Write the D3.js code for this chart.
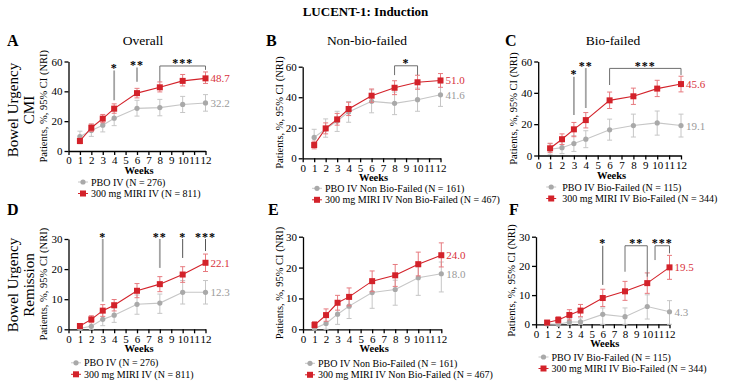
<!DOCTYPE html>
<html>
<head>
<meta charset="utf-8">
<script src="https://cdn.jsdelivr.net/npm/d3@7"></script>
<style>
  html, body { margin: 0; padding: 0; background: #fff; }
  svg { display: block; }
  svg text { font-family: "Liberation Serif", "DejaVu Serif", serif; }
</style>
</head>
<body>
<svg id="chart"></svg>
<script>
// weeks of measurement and x tick labels
const weeks = [1, 2, 3, 4, 6, 8, 10, 12];
const xTicks = [0, 1, 2, 3, 4, 5, 6, 7, 8, 9, 10, 11, 12];
const yTicksCmi = [0, 20, 40, 60];
const yTicksRem = [0, 10, 20, 30];

// A: CMI overall
const cmiAllPbo = [9.7, 13.8, 17.3, 22.0, 28.6, 29.1, 31.2, 32.2];
const cmiAllPboCI = [[5.6, 13.3], [9.8, 18.0], [12.8, 21.8], [17.0, 26.8], [23.4, 34.0], [23.6, 34.6], [25.8, 36.6], [26.7, 37.8]];
const cmiAllMiri = [6.7, 15.6, 21.7, 28.4, 38.8, 42.7, 47.0, 48.7];
const cmiAllMiriCI = [[4.9, 8.6], [13.1, 18.1], [19.0, 24.5], [25.3, 31.6], [35.6, 42.0], [39.6, 46.3], [43.6, 51.3], [45.3, 53.0]];

// B: CMI non-bio-failed
const cmiNonBioPbo = [13.7, 19.2, 24.4, 30.4, 37.3, 36.0, 38.4, 41.6];
const cmiNonBioPboCI = [[8.4, 19.0], [13.8, 25.8], [17.6, 30.8], [23.6, 37.2], [29.8, 44.8], [28.6, 43.4], [30.8, 46.0], [34.0, 49.2]];
const cmiNonBioMiri = [8.7, 19.6, 25.5, 32.3, 41.0, 46.2, 49.8, 51.0];
const cmiNonBioMiriCI = [[6.2, 11.2], [16.0, 23.2], [21.7, 29.4], [28.0, 36.7], [36.7, 45.4], [41.7, 50.8], [45.2, 54.4], [46.5, 55.5]];

// C: CMI bio-failed
const cmiBioPbo = [4.0, 5.0, 7.6, 10.4, 16.4, 19.1, 20.8, 19.1];
const cmiBioPboCI = [[0.8, 7.5], [1.2, 8.8], [2.6, 12.7], [5.0, 15.8], [9.8, 23.2], [11.8, 26.4], [13.0, 28.4], [11.8, 26.4]];
const cmiBioMiri = [4.6, 10.4, 16.7, 22.6, 35.2, 37.8, 42.7, 45.6];
const cmiBioMiriCI = [[2.0, 7.8], [7.0, 13.8], [12.0, 21.1], [17.6, 27.4], [30.0, 40.5], [32.6, 43.0], [37.6, 48.0], [40.6, 50.6]];

// D: remission overall
const remAllPbo = [0.3, 1.0, 3.3, 4.7, 8.3, 8.7, 12.3, 12.3];
const remAllPboCI = [[0, 1.1], [0, 2.3], [1.2, 5.6], [2.3, 7.1], [5.0, 11.4], [5.3, 11.7], [8.4, 16.2], [8.4, 16.2]];
const remAllMiri = [1.1, 3.3, 6.2, 8.0, 12.8, 15.0, 18.2, 22.1];
const remAllMiriCI = [[0.4, 1.8], [2.2, 4.5], [4.3, 8.2], [6.1, 9.9], [10.5, 15.2], [12.5, 17.5], [15.6, 20.8], [19.2, 25.0]];

// E: remission non-bio-failed
const remNonBioPbo = [0.3, 1.9, 4.9, 7.5, 11.9, 12.9, 16.7, 18.0];
const remNonBioPboCI = [[0, 1.2], [0, 3.9], [1.6, 8.2], [3.5, 10.5], [6.8, 15.4], [7.8, 15.9], [11.0, 20.2], [12.1, 21.8]];
const remNonBioMiri = [1.4, 4.6, 8.6, 10.5, 15.6, 17.5, 21.1, 24.0];
const remNonBioMiriCI = [[0.5, 2.5], [2.6, 6.6], [6.2, 11.0], [7.6, 13.4], [12.2, 18.9], [13.9, 21.0], [17.3, 25.0], [20.2, 28.0]];

// F: remission bio-failed
const remBioPbo = [0.1, 0.0, 0.8, 0.8, 3.4, 2.6, 6.1, 4.3];
const remBioPboCI = [[0, 0.4], [0, 0.3], [0, 2.0], [0, 2.2], [0, 5.6], [0, 5.6], [1.8, 10.1], [0, 8.1]];
const remBioMiri = [0.6, 1.5, 3.2, 4.7, 9.0, 11.3, 14.1, 19.5];
const remBioMiriCI = [[0.1, 1.2], [0.4, 2.6], [1.5, 5.0], [2.6, 6.8], [6.1, 12.0], [8.2, 14.7], [10.6, 17.6], [15.4, 23.6]];

// significance marks (week, % values); thin = dark hairline instead of grey bar
const sigA = [
  {at: 4, top: 54, bottom: 34, label: "*"},
  {at: 6, top: 56, bottom: 46.5, label: "**"},
  {from: 8, to: 12, top: 57, left: 46.5, right: 54.4, label: "***"}
];
const sigB = [{from: 8, to: 10, top: 60.6, left: 54.5, right: 54.5, label: "*"}];
const sigC = [
  {at: 3, top: 50.3, bottom: 25.8, label: "*"},
  {at: 4, top: 55.8, bottom: 30.3, label: "**"},
  {from: 6, to: 12, top: 55.6, left: 45, right: 51.4, label: "***"}
];
const sigD = [
  {at: 3, top: 30, bottom: 9.2, label: "*"},
  {at: 8, top: 30, bottom: 20.4, label: "**"},
  {at: 10, top: 30, bottom: 23.7, label: "*", thin: true},
  {at: 12, top: 30, bottom: 26, label: "***", thin: true}
];
const sigE = [];
const sigF = [
  {at: 6, top: 26.9, bottom: 13.5, label: "*", thin: true},
  {from: 8, to: 10, top: 26.9, left: 18, right: 16.3, label: "**"},
  {from: 10.7, to: 12, top: 26.9, left: 22, right: 24.3, label: "***"}
];

// texts
const chartTitle = "LUCENT-1: Induction";
const colTitles = ["Overall", "Non-bio-failed", "Bio-failed"];
const rowLabels = [["Bowel Urgency", "CMI"], ["Bowel Urgency", "Remission"]];
const letters = ["A", "B", "C", "D", "E", "F"];
const legendAll = ["PBO IV (N = 276)", "300 mg MIRI IV (N = 811)"];
const legendNonBio = ["PBO IV Non Bio-Failed (N = 161)", "300 mg MIRI IV Non Bio-Failed (N = 467)"];
const legendBio = ["PBO IV Bio-Failed (N = 115)", "300 mg MIRI IV Bio-Failed (N = 344)"];
const yLabel = "Patients, %, 95% CI (NRI)";
const xLabel = "Weeks";

const width = 731, height = 390;
const serif = '"Liberation Serif", "DejaVu Serif", serif';
const red = "#d3222a", redLight = "#e77a7f", grey = "#a9a9a9", greyLight = "#c6c6c6";

// panel layout: axis pixel boxes
const panels = [
  {pbo: cmiAllPbo, pboCI: cmiAllPboCI, miri: cmiAllMiri, miriCI: cmiAllMiriCI, sig: sigA, legend: legendAll, yTicks: yTicksCmi,
   x0: 68.5, x1: 205.5, y0: 151, y1: 61.5, title: colTitles[0], titleX: 143, letterX: 7, legX: 14.5, legY: 31, yLabX: 25.5},
  {pbo: cmiNonBioPbo, pboCI: cmiNonBioPboCI, miri: cmiNonBioMiri, miriCI: cmiNonBioMiriCI, sig: sigB, legend: legendNonBio, yTicks: yTicksCmi,
   x0: 302.7, x1: 440.5, y0: 158.3, y1: 66.7, title: colTitles[1], titleX: 367, letterX: 266, legX: 14.3, legY: 30, yLabX: 23.4},
  {pbo: cmiBioPbo, pboCI: cmiBioPboCI, miri: cmiBioMiri, miriCI: cmiBioMiriCI, sig: sigC, legend: legendBio, yTicks: yTicksCmi,
   x0: 538.2, x1: 681, y0: 155.5, y1: 61.5, title: colTitles[2], titleX: 613, letterX: 505, legX: 13, legY: 31.5, yLabX: 25},
  {pbo: remAllPbo, pboCI: remAllPboCI, miri: remAllMiri, miriCI: remAllMiriCI, sig: sigD, legend: legendAll, yTicks: yTicksRem,
   x0: 68.5, x1: 205.5, y0: 329.3, y1: 239, letterX: 7, legX: 7.5, legY: 33.5, yLabX: 25.5},
  {pbo: remNonBioPbo, pboCI: remNonBioPboCI, miri: remNonBioMiri, miriCI: remNonBioMiriCI, sig: sigE, legend: legendNonBio, yTicks: yTicksRem,
   x0: 303, x1: 441.3, y0: 329.3, y1: 236.7, letterX: 268, legX: 7, legY: 34, yLabX: 23.7},
  {pbo: remBioPbo, pboCI: remBioPboCI, miri: remBioMiri, miriCI: remBioMiriCI, sig: sigF, legend: legendBio, yTicks: yTicksRem,
   x0: 536, x1: 669.5, y0: 324.3, y1: 236.7, letterX: 509, legX: 7.5, legY: 32.7, yLabX: 24.3}
];

const svg = d3.select("#chart")
  .attr("width", width)
  .attr("height", height)
  .attr("viewBox", [0, 0, width, height])
  .attr("font-family", serif);

// main title
svg.append("text")
  .attr("x", width / 2).attr("y", 16)
  .attr("text-anchor", "middle")
  .attr("font-size", 13).attr("font-weight", "bold")
  .text(chartTitle);

// row labels
rowLabels.forEach((lines, r) => {
  const cy = r === 0 ? 110 : 285;
  lines.forEach((t, i) => {
    svg.append("text")
      .attr("transform", `translate(${13 + i * 16},${cy}) rotate(-90)`)
      .attr("text-anchor", "middle")
      .attr("dominant-baseline", "central")
      .attr("font-size", 15)
      .text(t);
  });
});

panels.forEach((p, i) => {
  const yMax = p.yTicks[p.yTicks.length - 1];
  const x = d3.scaleLinear([0, 12], [p.x0, p.x1]);
  const y = d3.scaleLinear([0, yMax], [p.y0, p.y1]);
  const g = svg.append("g");

  // letter + column title
  const topY = i < 3 ? 40 : 209;
  g.append("text")
    .attr("x", p.letterX).attr("y", topY + 5.5)
    .attr("font-size", 16).attr("font-weight", "bold")
    .text(letters[i]);
  if (p.title) {
    g.append("text")
      .attr("x", p.titleX).attr("y", topY + 4.5)
      .attr("text-anchor", "middle")
      .attr("font-size", 13.5)
      .text(p.title);
  }

  // axes
  g.append("g")
    .attr("transform", `translate(0,${p.y0})`)
    .call(d3.axisBottom(x).tickValues(xTicks).tickSize(4).tickSizeOuter(0).tickPadding(1.5))
    .attr("font-family", serif).attr("font-size", 11)
    .call(a => a.selectAll("line, path").attr("stroke-width", 1.3));
  g.append("g")
    .attr("transform", `translate(${p.x0},0)`)
    .call(d3.axisLeft(y).tickValues(p.yTicks).tickSize(4).tickSizeOuter(0).tickPadding(2))
    .attr("font-family", serif).attr("font-size", 11)
    .call(a => a.selectAll("line, path").attr("stroke-width", 1.3));

  g.append("text")
    .attr("x", (p.x0 + p.x1) / 2 + 2).attr("y", p.y0 + 23)
    .attr("text-anchor", "middle")
    .attr("font-size", 10.5)
    .attr("font-weight", "bold")
    .text(xLabel);
  g.append("text")
    .attr("transform", `translate(${p.x0 - p.yLabX},${(p.y0 + p.y1) / 2}) rotate(-90)`)
    .attr("text-anchor", "middle")
    .attr("dominant-baseline", "central")
    .attr("font-size", 10.5)
    .text(yLabel);

  // series
  const series = [
    {vals: p.pbo, ci: p.pboCI, stroke: greyLight, bar: greyLight, fill: grey, shape: "circle"},
    {vals: p.miri, ci: p.miriCI, stroke: red, bar: redLight, fill: red, shape: "square"}
  ];
  series.forEach(s => {
    const pts = weeks.map((w, k) => ({w, v: s.vals[k], lo: s.ci[k][0], hi: s.ci[k][1]}));
    const eb = g.append("g").attr("stroke", s.bar).attr("stroke-width", 1);
    eb.selectAll("line.v").data(pts).join("line").attr("class", "v")
      .attr("x1", d => x(d.w)).attr("x2", d => x(d.w))
      .attr("y1", d => y(d.lo)).attr("y2", d => y(d.hi));
    eb.selectAll("line.t").data(pts).join("line").attr("class", "t")
      .attr("x1", d => x(d.w) - 2.5).attr("x2", d => x(d.w) + 2.5)
      .attr("y1", d => y(d.hi)).attr("y2", d => y(d.hi));
    eb.selectAll("line.b").data(pts).join("line").attr("class", "b")
      .attr("x1", d => x(d.w) - 2.5).attr("x2", d => x(d.w) + 2.5)
      .attr("y1", d => y(d.lo)).attr("y2", d => y(d.lo));

    g.append("path").datum(pts)
      .attr("fill", "none").attr("stroke", s.stroke).attr("stroke-width", 1.1)
      .attr("d", d3.line().x(d => x(d.w)).y(d => y(d.v)));

    if (s.shape === "circle") {
      g.append("g").selectAll("circle").data(pts).join("circle")
        .attr("cx", d => x(d.w)).attr("cy", d => y(d.v)).attr("r", 2.6)
        .attr("fill", s.fill);
    } else {
      g.append("g").selectAll("rect").data(pts).join("rect")
        .attr("x", d => x(d.w) - 3).attr("y", d => y(d.v) - 3)
        .attr("width", 6).attr("height", 6)
        .attr("fill", s.fill);
    }

    // end value label
    const last = pts[pts.length - 1];
    g.append("text")
      .attr("x", x(12) + 5).attr("y", y(last.v))
      .attr("dominant-baseline", "central")
      .attr("font-size", 11)
      .attr("fill", s.shape === "circle" ? "#9a9a9a" : "#d8313a")
      .text(d3.format(".1f")(last.v));
  });

  // significance marks
  p.sig.forEach(m => {
    let cx;
    if (m.at !== undefined) {
      cx = x(m.at);
      g.append("line")
        .attr("x1", cx).attr("x2", cx)
        .attr("y1", y(m.top)).attr("y2", y(m.bottom))
        .attr("stroke", m.thin ? "#555" : "#a3a3a3").attr("stroke-width", m.thin ? 1 : 1.8);
    } else {
      cx = (x(m.from) + x(m.to)) / 2;
      g.append("path")
        .attr("fill", "none").attr("stroke", "#6e6e6e").attr("stroke-width", 1)
        .attr("d", `M${x(m.from)},${y(m.left)}V${y(m.top)}H${x(m.to)}V${y(m.right)}`);
    }
    g.append("text")
      .attr("x", cx).attr("y", y(m.top) + 1.5)
      .attr("text-anchor", "middle")
      .attr("font-size", 12).attr("font-weight", "bold")
      .attr("letter-spacing", 1)
      .text(m.label);
  });

  // legend
  const lx = p.x0 + p.legX;
  const leg = g.append("g").attr("font-size", 10);
  p.legend.forEach((t, k) => {
    const ly = p.y0 + p.legY + k * 11.5;
    const col = k === 0 ? grey : red;
    leg.append("line")
      .attr("x1", lx - 5).attr("x2", lx + 5).attr("y1", ly).attr("y2", ly)
      .attr("stroke", k === 0 ? greyLight : red).attr("stroke-width", 1);
    if (k === 0) {
      leg.append("circle").attr("cx", lx).attr("cy", ly).attr("r", 2.6).attr("fill", col);
    } else {
      leg.append("rect").attr("x", lx - 3).attr("y", ly - 3).attr("width", 6).attr("height", 6).attr("fill", col);
    }
    leg.append("text")
      .attr("x", lx + (i === 2 ? 11 : 8)).attr("y", ly)
      .attr("dominant-baseline", "central")
      .text(t);
  });
});
</script>
</body>
</html>
